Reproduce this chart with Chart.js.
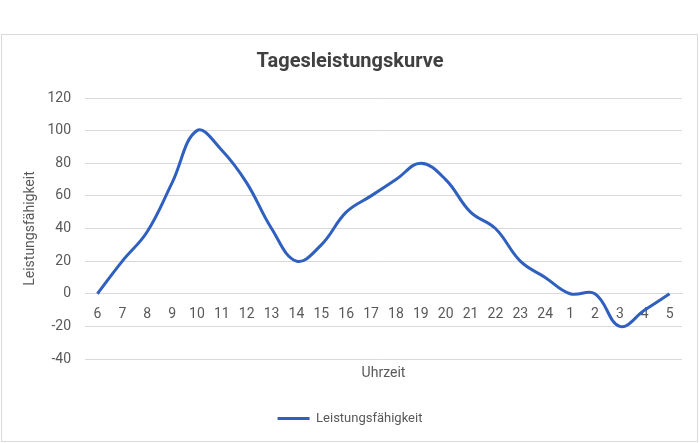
<!DOCTYPE html>
<html>
<head>
<meta charset="utf-8">
<script src="https://cdn.jsdelivr.net/npm/chart.js"></script>
<style>
  html, body { margin: 0; padding: 0; background: #fff; }
  #wrap { width: 700px; height: 443px; }
</style>
</head>
<body>
<div id="wrap"><canvas id="kurve"></canvas></div>
<script>
// Daten der Kurve
const uhrzeiten = ["6","7","8","9","10","11","12","13","14","15","16","17","18","19","20","21","22","23","24","1","2","3","4","5"];
const leistung = [0, 20, 38, 68, 100, 88, 68, 40, 20, 30, 50, 60, 70, 80, 70, 50, 40, 20, 10, 0, 0, -20, -10, 0];
const yTicks = [-40, -20, 0, 20, 40, 60, 80, 100, 120];

const schrift = "Roboto, 'Noto Sans', sans-serif";
const grau = "#595959";

// Rahmen um das ganze Diagramm
const rahmen = {
    id: "rahmen",
    beforeDraw(chart) {
        const ctx = chart.ctx;
        ctx.save();
        ctx.fillStyle = "#fff";
        ctx.fillRect(0, 0, chart.width, chart.height);
        ctx.strokeStyle = "#d9d9d9";
        ctx.lineWidth = 1;
        ctx.strokeRect(1.5, 34.5, 696, 407);
        ctx.restore();
    }
};

new Chart(document.getElementById("kurve"), {
    type: "line",
    data: {
        labels: uhrzeiten,
        datasets: [{
            label: "Leistungsfähigkeit",
            data: leistung,
            borderColor: "#2F5FBF",
            backgroundColor: "#2F5FBF",
            borderWidth: 3,
            tension: 0.4,
            pointRadius: 0,
            fill: false
        }]
    },
    options: {
        responsive: true,
        maintainAspectRatio: false,
        animation: false,
        layout: { padding: { left: 18, right: 18, top: 0, bottom: 8 } },
        plugins: {
            title: {
                display: true,
                text: "Tagesleistungskurve",
                color: "#404040",
                font: { family: schrift, size: 20, weight: "bold" },
                padding: { top: 50, bottom: 24 }
            },
            legend: {
                position: "bottom",
                labels: {
                    color: grau,
                    font: { family: schrift, size: 13 },
                    usePointStyle: true,
                    pointStyle: "line",
                    pointStyleWidth: 32,
                    padding: 10
                }
            },
            tooltip: { enabled: false }
        },
        scales: {
            y: {
                min: -40,
                max: 120,
                afterBuildTicks: (s) => { s.ticks = yTicks.map(v => ({ value: v })); },
                afterFit: (s) => { s.width = 67; },
                ticks: { color: grau, font: { family: schrift, size: 14 }, padding: 14 },
                grid: { color: "#d9d9d9", drawTicks: false },
                border: { display: false },
                title: {
                    display: true,
                    text: "Leistungsfähigkeit",
                    color: grau,
                    font: { family: schrift, size: 14 },
                    padding: { top: 4, bottom: 0 }
                }
            },
            x: {
                position: { y: 0 },
                offset: true,
                grid: { display: false, drawTicks: false },
                border: { display: true, color: "#d9d9d9" },
                ticks: { color: grau, font: { family: schrift, size: 14 }, padding: 12, maxRotation: 0, autoSkip: false }
            },
            x2: {
                position: "bottom",
                grid: { display: false, drawTicks: false },
                border: { display: false },
                ticks: { display: false },
                afterFit: (s) => { s.height = 43; },
                title: {
                    display: true,
                    text: "Uhrzeit",
                    color: grau,
                    font: { family: schrift, size: 14 },
                    padding: { top: 5, bottom: 20 }
                }
            }
        }
    },
    plugins: [rahmen]
});
</script>
</body>
</html>
